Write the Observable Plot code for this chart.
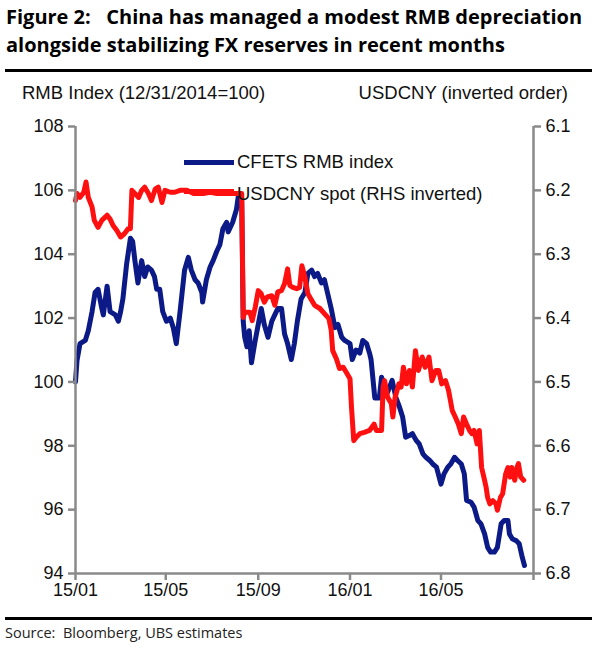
<!DOCTYPE html>
<html>
<head>
<meta charset="utf-8">
<script src="https://cdn.jsdelivr.net/npm/d3@7"></script>
<script src="https://cdn.jsdelivr.net/npm/@observablehq/plot@0.6"></script>
<style>
  html, body { margin: 0; padding: 0; background: #fff; }
  #wrap { position: relative; width: 600px; height: 651px; overflow: hidden; background: #fff; }
  #wrap svg { position: absolute; left: 0; top: 0; }
  .title { position: absolute; left: 6px; top: 3px; font-family: "Open Sans", "Noto Sans", sans-serif; font-weight: 700; font-size: 20px; line-height: 28px; color: #000; white-space: pre; }
  .rule { position: absolute; left: 5px; width: 587px; height: 3px; background: #000; }
  .axlab { position: absolute; font-family: "Liberation Sans", Arial, sans-serif; font-size: 18.5px; line-height: 22px; color: #111; white-space: pre; }
  .legend { position: absolute; left: 184px; font-family: "Liberation Sans", Arial, sans-serif; font-size: 18.5px; line-height: 22px; color: #111; white-space: pre; display: flex; align-items: center; }
  .legend .sw { display: inline-block; width: 50px; height: 5px; margin-right: 3px; position: relative; }
  .source { position: absolute; left: 5px; top: 623px; font-family: "Open Sans", "Noto Sans", sans-serif; font-size: 14.5px; color: #222; white-space: pre; }
</style>
</head>
<body>
<div id="wrap">
  <div class="title">Figure 2:   China has managed a modest RMB depreciation
alongside stabilizing FX reserves in recent months</div>
  <div class="rule" style="top:69px"></div>
  <div class="axlab" style="left:22px; top:82px">RMB Index (12/31/2014=100)</div>
  <div class="axlab" style="right:32px; top:82px">USDCNY (inverted order)</div>
  <div class="rule" style="top:617px"></div>
  <div class="source">Source:  Bloomberg, UBS estimates</div>
</div>
<script>
// ---- Data ----
const cfetsDates = ["2015-01-01","2015-01-03","2015-01-07","2015-01-14","2015-01-18","2015-01-23","2015-01-27","2015-01-31","2015-02-05","2015-02-07","2015-02-12","2015-02-16","2015-02-23","2015-02-27","2015-03-02","2015-03-05","2015-03-10","2015-03-15","2015-03-18","2015-03-21","2015-03-25","2015-03-30","2015-04-03","2015-04-07","2015-04-12","2015-04-16","2015-04-19","2015-04-23","2015-04-27","2015-05-02","2015-05-07","2015-05-11","2015-05-15","2015-05-20","2015-05-26","2015-05-31","2015-06-04","2015-06-09","2015-06-13","2015-06-18","2015-06-19","2015-06-24","2015-06-29","2015-07-03","2015-07-08","2015-07-12","2015-07-16","2015-07-21","2015-07-23","2015-07-29","2015-08-03","2015-08-06","2015-08-10","2015-08-12","2015-08-14","2015-08-17","2015-08-20","2015-08-23","2015-08-28","2015-09-01","2015-09-05","2015-09-09","2015-09-14","2015-09-19","2015-09-23","2015-09-27","2015-10-02","2015-10-06","2015-10-10","2015-10-15","2015-10-19","2015-10-23","2015-10-28","2015-11-02","2015-11-06","2015-11-11","2015-11-15","2015-11-19","2015-11-24","2015-11-28","2015-12-02","2015-12-07","2015-12-12","2015-12-16","2015-12-21","2015-12-25","2016-01-01","2016-01-04","2016-01-09","2016-01-14","2016-01-18","2016-01-23","2016-01-27","2016-01-29","2016-02-03","2016-02-09","2016-02-12","2016-02-16","2016-02-20","2016-02-26","2016-03-02","2016-03-07","2016-03-11","2016-03-15","2016-03-20","2016-03-24","2016-03-29","2016-04-02","2016-04-07","2016-04-11","2016-04-16","2016-04-20","2016-04-25","2016-05-01","2016-05-05","2016-05-10","2016-05-14","2016-05-19","2016-05-23","2016-05-28","2016-06-01","2016-06-04","2016-06-10","2016-06-14","2016-06-19","2016-06-23","2016-06-28","2016-07-02","2016-07-06","2016-07-11","2016-07-15","2016-07-20","2016-07-24","2016-07-29","2016-07-31","2016-08-04","2016-08-09","2016-08-13","2016-08-17","2016-08-20"];
const cfetsValues = [100.0,100.67,101.2,101.3,101.6,102.2,102.8,102.9,102.3,102.1,103.0,102.2,102.1,101.9,102.2,102.6,103.7,104.5,104.4,103.8,103.1,103.8,103.3,103.6,103.5,103.3,102.9,102.9,102.2,101.9,102.0,101.7,101.2,102.2,103.5,103.9,103.5,103.2,103.1,102.8,102.5,103.2,103.6,103.8,104.1,104.3,104.8,105.0,104.7,105.0,105.4,105.9,105.7,101.9,101.4,101.1,101.6,100.6,101.3,101.8,102.3,101.8,101.4,101.9,102.1,102.3,102.3,101.5,101.2,100.7,101.2,101.9,102.6,102.8,103.4,103.5,103.3,103.4,103.1,103.2,102.8,102.3,101.7,101.8,101.4,101.3,101.2,100.7,101.0,100.9,101.3,101.2,100.9,100.7,99.5,99.5,100.15,99.84,99.68,100.05,99.52,99.2,98.9,98.27,98.32,98.38,98.17,98.06,97.75,97.64,97.54,97.43,97.33,96.8,97.12,97.33,97.43,97.64,97.54,97.43,97.12,96.29,96.23,96.08,95.66,95.56,95.24,94.82,94.67,94.67,94.82,95.56,95.66,95.66,95.24,95.08,95.03,94.93,94.51,94.25];

const usdcnyDates = ["2015-01-01","2015-01-03","2015-01-07","2015-01-12","2015-01-15","2015-01-18","2015-01-23","2015-01-26","2015-01-31","2015-02-05","2015-02-12","2015-02-16","2015-02-20","2015-02-25","2015-03-02","2015-03-07","2015-03-12","2015-03-15","2015-03-17","2015-03-21","2015-03-26","2015-03-30","2015-04-03","2015-04-08","2015-04-12","2015-04-17","2015-04-21","2015-04-26","2015-04-30","2015-05-07","2015-05-13","2015-05-20","2015-05-29","2015-06-07","2015-06-20","2015-06-29","2015-07-08","2015-07-21","2015-08-07","2015-08-10","2015-08-12","2015-08-14","2015-08-21","2015-08-24","2015-08-28","2015-09-01","2015-09-05","2015-09-09","2015-09-13","2015-09-19","2015-09-23","2015-09-27","2015-10-02","2015-10-06","2015-10-10","2015-10-13","2015-10-17","2015-10-22","2015-10-26","2015-10-29","2015-11-02","2015-11-06","2015-11-11","2015-11-15","2015-11-22","2015-11-28","2015-12-04","2015-12-07","2015-12-09","2015-12-14","2015-12-18","2015-12-23","2015-12-27","2016-01-01","2016-01-03","2016-01-06","2016-01-09","2016-01-14","2016-01-20","2016-01-27","2016-02-02","2016-02-05","2016-02-09","2016-02-12","2016-02-14","2016-02-16","2016-02-20","2016-02-25","2016-02-27","2016-03-01","2016-03-06","2016-03-09","2016-03-12","2016-03-16","2016-03-20","2016-03-24","2016-03-28","2016-04-01","2016-04-06","2016-04-10","2016-04-15","2016-04-19","2016-04-24","2016-04-28","2016-05-02","2016-05-07","2016-05-11","2016-05-16","2016-05-20","2016-05-24","2016-05-28","2016-05-31","2016-06-04","2016-06-08","2016-06-11","2016-06-14","2016-06-18","2016-06-21","2016-06-24","2016-06-27","2016-06-30","2016-07-02","2016-07-05","2016-07-09","2016-07-13","2016-07-15","2016-07-19","2016-07-22","2016-07-26","2016-07-29","2016-08-01","2016-08-03","2016-08-07","2016-08-10","2016-08-12","2016-08-15","2016-08-19"];
const usdcnyValues = [6.216,6.205,6.211,6.203,6.187,6.211,6.226,6.247,6.258,6.247,6.239,6.245,6.255,6.263,6.273,6.268,6.26,6.26,6.2,6.205,6.211,6.2,6.195,6.205,6.216,6.198,6.195,6.219,6.2,6.203,6.203,6.2,6.2,6.205,6.205,6.203,6.205,6.205,6.205,6.205,6.399,6.391,6.391,6.404,6.383,6.357,6.362,6.375,6.367,6.365,6.38,6.359,6.357,6.346,6.323,6.349,6.352,6.354,6.352,6.318,6.336,6.362,6.372,6.38,6.385,6.393,6.401,6.419,6.451,6.464,6.479,6.477,6.485,6.495,6.54,6.592,6.587,6.581,6.579,6.576,6.566,6.576,6.576,6.576,6.508,6.498,6.524,6.534,6.555,6.524,6.503,6.508,6.477,6.503,6.482,6.508,6.451,6.482,6.461,6.477,6.461,6.498,6.482,6.482,6.503,6.498,6.513,6.545,6.555,6.566,6.581,6.555,6.566,6.576,6.581,6.576,6.597,6.576,6.634,6.649,6.665,6.681,6.691,6.686,6.691,6.701,6.681,6.675,6.644,6.634,6.649,6.634,6.654,6.634,6.628,6.649,6.654];

const xTickDates = ["2015-01-01","2015-05-01","2015-09-01","2016-01-01","2016-05-01","2016-09-01"];
const xTickLabels = ["15/01","15/05","15/09","16/01","16/05",""];
const leftTicks = [94, 96, 98, 100, 102, 104, 106, 108];
const rightTicks = [6.1, 6.2, 6.3, 6.4, 6.5, 6.6, 6.7, 6.8];
const legendLabels = ["CFETS RMB index", "USDCNY spot (RHS inverted)"];
const colors = ["#0b1a86", "#ff1010"];

// ---- Build rows ----
const parse = d3.utcParse("%Y-%m-%d");
// Right axis (USDCNY, inverted): 6.1 -> 108, 6.8 -> 94 on the left scale
const leftMin = leftTicks[0], leftMax = leftTicks[leftTicks.length - 1];
const rMin = rightTicks[0], rMax = rightTicks[rightTicks.length - 1];
const toLeft = u => leftMax - (u - rMin) / (rMax - rMin) * (leftMax - leftMin);
const toRight = v => rMin + (leftMax - v) / (leftMax - leftMin) * (rMax - rMin);

const cfets = cfetsDates.map((d, i) => ({date: parse(d), value: cfetsValues[i]}));
const usdcny = usdcnyDates.map((d, i) => ({date: parse(d), value: toLeft(usdcnyValues[i])}));
const xTicks = xTickDates.map(parse);
const xDomain = [xTicks[0], xTicks[xTicks.length - 1]];
const labelOf = new Map(xTicks.map((d, i) => [+d, xTickLabels[i]]));

const axisGray = "#8a8a8a";
const chart = Plot.plot({
  width: 600,
  height: 651,
  marginTop: 126,
  marginBottom: 78,
  marginLeft: 75,
  marginRight: 67,
  style: {fontFamily: "'Liberation Sans', Arial, sans-serif", fontSize: "18px", color: "#111", background: "transparent", overflow: "visible"},
  x: {type: "utc", domain: xDomain},
  y: {domain: [leftMin, leftMax]},
  marks: [
    Plot.line(cfets, {x: "date", y: "value", stroke: colors[0], strokeWidth: 5, strokeLinejoin: "round", strokeLinecap: "round"}),
    Plot.line(usdcny, {x: "date", y: "value", stroke: colors[1], strokeWidth: 5, strokeLinejoin: "round", strokeLinecap: "round"}),
    Plot.ruleX([xDomain[0]], {stroke: axisGray, strokeWidth: 2.5}),
    Plot.ruleX([xDomain[1]], {stroke: axisGray, strokeWidth: 2.5}),
    Plot.ruleY([leftMin], {stroke: axisGray, strokeWidth: 2.5}),
    Plot.axisY({anchor: "left", ticks: leftTicks, tickSize: 7, tickPadding: 5, stroke: axisGray, strokeWidth: 2.5, fill: "#111", fontSize: 18, label: null}),
    Plot.axisY({anchor: "right", ticks: rightTicks.map(toLeft), tickFormat: v => toRight(v).toFixed(1), tickSize: 7, tickPadding: 5, stroke: axisGray, strokeWidth: 2.5, fill: "#111", fontSize: 18, label: null}),
    Plot.axisX({ticks: xTicks, tickFormat: d => labelOf.get(+d) ?? "", tickSize: 7, tickPadding: 3, stroke: axisGray, strokeWidth: 2.5, fill: "#111", fontSize: 18, label: null})
  ]
});

const wrap = document.getElementById("wrap");
wrap.insertBefore(chart, wrap.firstChild);

// Legend (HTML overlay)
legendLabels.forEach((lab, i) => {
  const div = document.createElement("div");
  div.className = "legend";
  div.style.top = (i === 0 ? 151 : 183) + "px";
  const sw = document.createElement("span");
  sw.className = "sw";
  sw.style.background = colors[i];
  if (i === 1) sw.style.top = "-3px";
  div.appendChild(sw);
  div.appendChild(document.createTextNode(lab));
  wrap.appendChild(div);
});
</script>
</body>
</html>
